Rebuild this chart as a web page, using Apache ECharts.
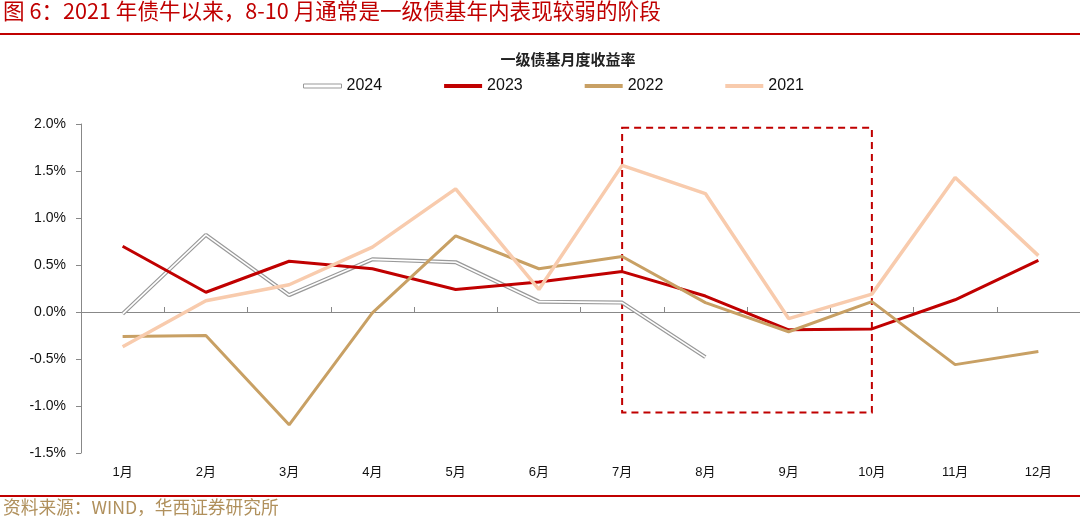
<!DOCTYPE html>
<html><head><meta charset="utf-8">
<script src="https://cdn.jsdelivr.net/npm/echarts@6/dist/echarts.min.js"></script>
<style>html,body{margin:0;padding:0;background:#fff}#c{width:1080px;height:520px}</style>
</head><body><div id="c"></div>
<script>
const months = ['1月','2月','3月','4月','5月','6月','7月','8月','9月','10月','11月','12月'];
const s2024 = [-0.02, 0.82, 0.18, 0.56, 0.53, 0.11, 0.10, -0.48];
const s2023 = [0.70, 0.21, 0.54, 0.46, 0.24, 0.32, 0.43, 0.17, -0.19, -0.18, 0.13, 0.55];
const s2022 = [-0.26, -0.25, -1.20, -0.01, 0.81, 0.46, 0.59, 0.10, -0.21, 0.11, -0.56, -0.42];
const s2021 = [-0.37, 0.12, 0.29, 0.69, 1.31, 0.24, 1.56, 1.26, -0.07, 0.19, 1.43, 0.60];
const yTicks = {min: -1.5, max: 2.0, step: 0.5};
const highlight = {from: '7月', to: '10月', top: 1.96, bottom: -1.07};

const latin = 'Liberation Sans, Arial, Noto Sans CJK SC, sans-serif';
const cjk = 'Noto Sans CJK SC, sans-serif';
const chart = echarts.init(document.getElementById('c'));
chart.setOption({
  animation: false,
  backgroundColor: '#fff',
  title: [{
    text: '一级债基月度收益率', left: 563, top: 47, textAlign: 'center',
    textStyle: {fontFamily: cjk, fontSize: 15, fontWeight: 'bold', color: '#222'}
  }],
  graphic: [
    {type: 'text', left: 3, top: 0, style: {text: '图 6：2021 年债牛以来，8-10 月通常是一级债基年内表现较弱的阶段', fontFamily: cjk, fontSize: 21.6, fill: '#C00000'}},
    {type: 'rect', shape: {x: 0, y: 33, width: 1080, height: 2}, style: {fill: '#C00000'}},
    {type: 'rect', shape: {x: 0, y: 495, width: 1080, height: 2}, style: {fill: '#C00000'}},
    {type: 'text', left: 3, top: 498, style: {text: '资料来源：WIND，华西证券研究所', fontFamily: cjk, fontSize: 17.7, fill: '#B0905C'}}
  ],
  legend: {
    top: 73, left: 298, itemGap: 62, itemWidth: 38, itemHeight: 4,
    textStyle: {fontFamily: latin, fontSize: 16, color: '#111'},
    data: [
      {name: '2024', icon: 'rect', itemStyle: {color: '#fff', borderColor: '#999', borderWidth: 1}},
      {name: '2023', icon: 'rect', itemStyle: {color: '#C00000'}},
      {name: '2022', icon: 'rect', itemStyle: {color: '#C8A064'}},
      {name: '2021', icon: 'rect', itemStyle: {color: '#F8CBAD'}}
    ]
  },
  grid: {left: 81, right: 0, top: 124, bottom: 67},
  xAxis: [{
    type: 'category', data: months, position: 'bottom',
    axisLine: {show: false, onZero: false}, axisTick: {show: false},
    axisLabel: {fontFamily: latin, fontSize: 13, color: '#111', margin: 13}
  }, {
    type: 'category', data: months,
    axisLine: {show: true, onZero: true, lineStyle: {color: '#888', width: 1}},
    axisTick: {show: true, length: 5, lineStyle: {color: '#888'}},
    axisLabel: {show: false}
  }],
  yAxis: {
    type: 'value', min: yTicks.min, max: yTicks.max, interval: yTicks.step,
    axisLine: {show: true, lineStyle: {color: '#888'}},
    axisTick: {show: true, length: 5, lineStyle: {color: '#888'}},
    splitLine: {show: false},
    axisLabel: {fontFamily: latin, fontSize: 14, color: '#111', margin: 15,
      formatter: v => v.toFixed(1) + '%'}
  },
  series: [
    {name: '2024', type: 'line', data: s2024, symbol: 'none', z: 2,
      lineStyle: {color: '#999', width: 4}, itemStyle: {color: '#999'}},
    {name: '2024w', type: 'line', data: s2024, symbol: 'none', z: 3, silent: true,
      lineStyle: {color: '#fff', width: 1.6}},
    {name: '2023', type: 'line', data: s2023, symbol: 'none', z: 4,
      lineStyle: {color: '#C00000', width: 3}, itemStyle: {color: '#C00000'},
      markArea: {silent: true, itemStyle: {color: 'rgba(0,0,0,0)', borderColor: '#C00000', borderWidth: 2, borderType: [7, 5]},
        data: [[{xAxis: highlight.from, yAxis: highlight.top}, {xAxis: highlight.to, yAxis: highlight.bottom}]]}},
    {name: '2022', type: 'line', data: s2022, symbol: 'none', z: 5,
      lineStyle: {color: '#C8A064', width: 3}, itemStyle: {color: '#C8A064'}},
    {name: '2021', type: 'line', data: s2021, symbol: 'none', z: 6,
      lineStyle: {color: '#F8CBAD', width: 3.5}, itemStyle: {color: '#F8CBAD'}}
  ]
});
</script></body></html>
